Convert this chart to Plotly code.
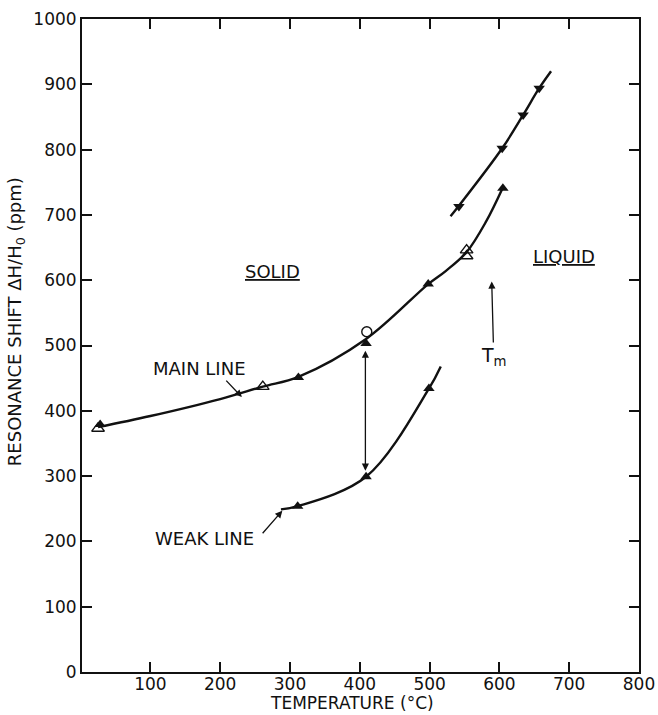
import plotly.graph_objects as go

# ---- data ----
main_curve_x = [25, 100, 200, 261, 312, 409, 498, 523, 553, 581, 605]
main_curve_y = [375, 392, 418, 437, 452, 510, 594, 614, 643, 690, 742]

liquid_curve_x = [530, 542, 604, 634, 657, 674]
liquid_curve_y = [698, 714, 802, 853, 894, 920]

weak_curve_x = [287, 311, 409, 499, 516]
weak_curve_y = [249, 254, 299, 434, 468]

main_filled_x = [28, 312, 409, 498, 605]
main_filled_y = [379, 451, 503, 594, 741]

main_open_x = [25, 261, 553, 553]
main_open_y = [373, 437, 646, 637]

circle_x = [410]
circle_y = [521]

liquid_down_x = [542, 604, 634, 657]
liquid_down_y = [713, 802, 853, 894]

weak_filled_x = [311, 409, 499]
weak_filled_y = [254, 299, 434]

x_ticks = [100, 200, 300, 400, 500, 600, 700, 800]
y_ticks = [0, 100, 200, 300, 400, 500, 600, 700, 800, 900, 1000]

FONT = "DejaVu Sans"
BLACK = "#111111"

fig = go.Figure()

for cx, cy in [(main_curve_x, main_curve_y), (liquid_curve_x, liquid_curve_y),
               (weak_curve_x, weak_curve_y)]:
    fig.add_trace(go.Scatter(x=cx, y=cy, mode="lines",
                             line=dict(color=BLACK, width=2.4, shape="spline", smoothing=1.0),
                             hoverinfo="skip", showlegend=False))

fig.add_trace(go.Scatter(x=main_filled_x, y=main_filled_y, mode="markers",
                         marker=dict(symbol="triangle-up", size=10, color=BLACK),
                         showlegend=False))
fig.add_trace(go.Scatter(x=weak_filled_x, y=weak_filled_y, mode="markers",
                         marker=dict(symbol="triangle-up", size=10, color=BLACK),
                         showlegend=False))
fig.add_trace(go.Scatter(x=liquid_down_x, y=liquid_down_y, mode="markers",
                         marker=dict(symbol="triangle-down", size=10, color=BLACK),
                         showlegend=False))
fig.add_trace(go.Scatter(x=main_open_x, y=main_open_y, mode="markers",
                         marker=dict(symbol="triangle-up-open", size=11, color=BLACK,
                                     line=dict(width=1.4)),
                         showlegend=False))
fig.add_trace(go.Scatter(x=circle_x, y=circle_y, mode="markers",
                         marker=dict(symbol="circle-open", size=10, color=BLACK,
                                     line=dict(width=1.4)),
                         showlegend=False))

tfont = dict(family=FONT, size=18, color=BLACK)
arrow = dict(arrowhead=2, arrowsize=1.1, arrowwidth=1.3, arrowcolor=BLACK)
ann = []
ann.append(dict(x=170, y=465, text="MAIN LINE", showarrow=False, font=tfont))
ann.append(dict(x=231, y=421, ax=-17, ay=-18, text="", showarrow=True, **arrow))
ann.append(dict(x=178, y=204, text="WEAK LINE", showarrow=False, font=tfont))
ann.append(dict(x=289, y=247, ax=-21, ay=24, text="", showarrow=True, **arrow))
ann.append(dict(x=275, y=613, text="<u>SOLID</u>", showarrow=False, font=tfont))
ann.append(dict(x=693, y=636, text="<u>LIQUID</u>", showarrow=False, font=tfont))
ann.append(dict(x=589, y=598, ax=2, ay=75, text="T<sub>m</sub>", showarrow=True,
                font=dict(family=FONT, size=19, color=BLACK), **arrow))
ann.append(dict(x=408, y=492, ax=408, ay=306, axref="x", ayref="y", text="",
                showarrow=True, startarrowhead=2, arrowside="end+start",
                startarrowsize=1.1, **arrow))
ann.append(dict(xref="paper", yref="paper", x=-0.117, y=0.537, textangle=-90,
                xanchor="center", yanchor="middle",
                text="RESONANCE SHIFT \u0394H/H<sub>0</sub> (ppm)", showarrow=False,
                font=dict(family=FONT, size=18, color=BLACK)))
ann.append(dict(xref="paper", yref="paper", x=0.485, y=-0.0640,
                xanchor="center", yanchor="bottom", borderpad=0,
                text="TEMPERATURE (\u00b0C)", showarrow=False,
                font=dict(family=FONT, size=17, color=BLACK)))

fig.update_layout(
    width=658, height=715,
    margin=dict(l=82, r=19, t=19, b=43),
    paper_bgcolor="white", plot_bgcolor="white",
    annotations=ann,
    font=dict(family=FONT, color=BLACK),
)
fig.update_xaxes(range=[2, 800], tickvals=x_ticks, ticks="inside", ticklen=10,
                 tickwidth=1.5, tickcolor=BLACK, showline=True, linecolor=BLACK,
                 linewidth=2, mirror="ticks", showgrid=False, zeroline=False,
                 automargin=False, ticklabelstandoff=-4,
                 tickfont=dict(family=FONT, size=17, color=BLACK))
fig.update_yaxes(range=[0, 1000], tickvals=y_ticks, ticks="inside", ticklen=10,
                 tickwidth=1.5, tickcolor=BLACK, showline=True, linecolor=BLACK,
                 linewidth=2, mirror="ticks", showgrid=False, zeroline=False,
                 automargin=False,
                 tickfont=dict(family=FONT, size=17, color=BLACK))

fig.write_html("out.html")
